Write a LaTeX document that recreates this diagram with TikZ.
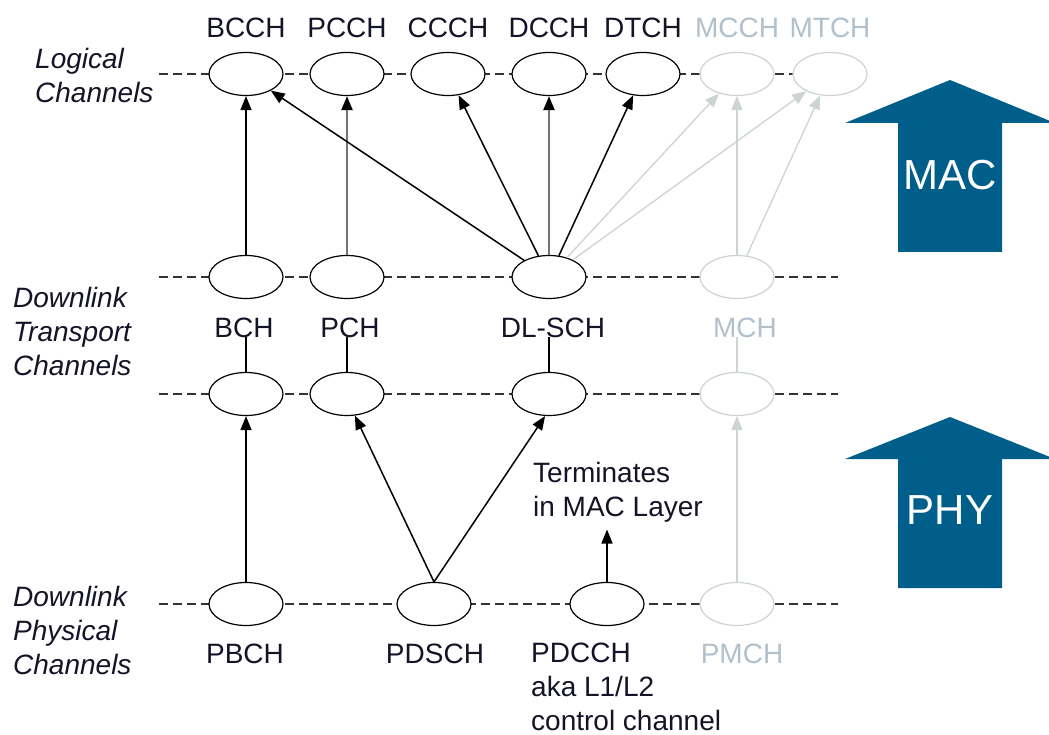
\documentclass[tikz,border=0pt]{standalone}
\usepackage{fontspec}
\setmainfont{Liberation Sans}
\usetikzlibrary{shapes.geometric,arrows.meta}
\definecolor{macblue}{RGB}{0,94,138}
\definecolor{mbmsline}{RGB}{204,212,208}
\definecolor{mbmstext}{RGB}{176,192,205}
\definecolor{ink}{RGB}{20,20,40}
\tikzset{
  chan/.style={ellipse,draw=black,line width=1.2pt,fill=white,minimum width=74pt,minimum height=43pt,inner sep=0pt},
  mbms/.style={chan,draw=mbmsline},
  lbl/.style={inner sep=0pt,text=ink,font=\fontsize{28}{34}\selectfont},
  side/.style={inner sep=0pt,text=ink,font=\fontsize{28}{34}\selectfont\itshape,align=left,anchor=north west},
  level/.style={black!80,line width=1.3pt,dash pattern=on 9pt off 5pt},
  flow/.style={line width=1.5pt,-{Triangle[length=14pt,width=11pt,color=black]}},
  greyflow/.style={flow,black!55,line width=2.2pt},
  mbmsflow/.style={draw=mbmsline,line width=1.3pt,-{Triangle[length=14pt,width=11pt,color=mbmsline]}},
  layer/.style={inner sep=0pt,text=white,font=\fontsize{42}{50}\selectfont}
}
\begin{document}
\begin{tikzpicture}[x=1pt,y=-1pt]
\useasboundingbox (0,0) rectangle (1049,735);
\def\rowA{74};%Logical
\def\rowB{277};%Transporte arriba
\def\rowC{394};%Transporte abajo
\def\rowD{604};%Fisico

%Lineas de nivel
\draw[level] (159,\rowA) -- (793,\rowA);
\foreach \y in {\rowB,\rowC,\rowD}{
    \draw[level] (159,\y) -- (838,\y);
}

%Titulos de nivel
\node[side] (logic) at (35,48) {Logical\\Channels};
\node[side] (trans) at (13,287) {Downlink\\Transport\\Channels};
\node[side] (phys) at (13,586) {Downlink\\Physical\\Channels};

%Canales logicos
\foreach \n/\x/\t in {bcch/246/BCCH,pcch/347/PCCH,ccch/448/CCCH,dcch/549/DCCH,dtch/643/DTCH}{
    \node[chan] (\n) at (\x,\rowA) {};
    \node[lbl,anchor=base] (\n l) at (\x,38) {\t};
}
\foreach \n/\x/\t in {mcch/737/MCCH,mtch/830/MTCH}{
    \node[mbms] (\n) at (\x,\rowA) {};
    \node[lbl,anchor=base,text=mbmstext] (\n l) at (\x,38) {\t};
}

%Canales de transporte
\foreach \n/\x/\d/\t in {bch/246/-2/BCH,pch/347/3/PCH,dlsch/549/4/DL-SCH}{
    \node[chan] (\n2) at (\x,\rowB) {};
    \node[chan] (\n3) at (\x,\rowC) {};
    \node[lbl,anchor=base] (\n l) at (\x+\d,337) {\t};
    \draw[line width=1.2pt] (\n3.north) -- (\n3.north |- \n l.base);
}
\node[mbms] (mch2) at (737,\rowB) {};
\node[mbms] (mch3) at (737,\rowC) {};
\node[lbl,anchor=base,text=mbmstext] (mchl) at (745,337) {MCH};
\draw[mbmsline,line width=1.2pt] (mch3.north) -- (mch3.north |- mchl.base);

%Canales fisicos
\node[chan] (pbch) at (246,\rowD) {};
\node[chan] (pdsch) at (434,\rowD) {};
\node[chan] (pdcch) at (607,\rowD) {};
\node[mbms] (pmch) at (737,\rowD) {};
\node[lbl,anchor=base] (pbchl) at (245,663) {PBCH};
\node[lbl,anchor=base] (pdschl) at (435,663) {PDSCH};
\node[lbl,align=left,anchor=north west] (pdcchl) at (531,643) {PDCCH\\aka L1/L2\\control channel};
\node[lbl,anchor=base,text=mbmstext] (pmchl) at (742,663) {PMCH};
\node[lbl,align=left,anchor=north west] (term) at (533,462) {Terminates\\in MAC Layer};

%Flechas fisico -> transporte
\draw[flow] (pbch) -- (bch3);
\draw[flow] (pdsch.north) -- (pch3.-70);
\draw[flow] (pdsch.north) -- (dlsch3.-100);
\draw[flow,shorten >=7pt] (pdcch.north) -- (pdcch.north |- term.south);
\draw[mbmsflow] (pmch) -- (mch3);

%Flechas transporte -> logico
\draw[flow] (bch2) -- (bcch);
\draw[greyflow] (pch2) -- (pcch);
\draw[flow] (dlsch2) -- (bcch);
\draw[flow] (dlsch2) -- (ccch);
\draw[greyflow] (dlsch2) -- (dcch);
\draw[flow] (dlsch2) -- (dtch);
\draw[mbmsflow] (dlsch2) -- (mcch);
\draw[mbmsflow] (dlsch2) -- (mtch);
\draw[mbmsflow] (mch2) -- (mcch);
\draw[mbmsflow] (mch2) -- (mtch);

%Capas
\fill[macblue] (898,252) -- (898,123) -- (845,123) -- (950,80) -- (1055,123) -- (1002,123) -- (1002,252) -- cycle;
\node[layer] (mac) at (950,175) {MAC};
\fill[macblue] (898,588) -- (898,459) -- (845,459) -- (950,417) -- (1055,459) -- (1002,459) -- (1002,588) -- cycle;
\node[layer] (phy) at (950,510) {PHY};
\end{tikzpicture}
\end{document}
